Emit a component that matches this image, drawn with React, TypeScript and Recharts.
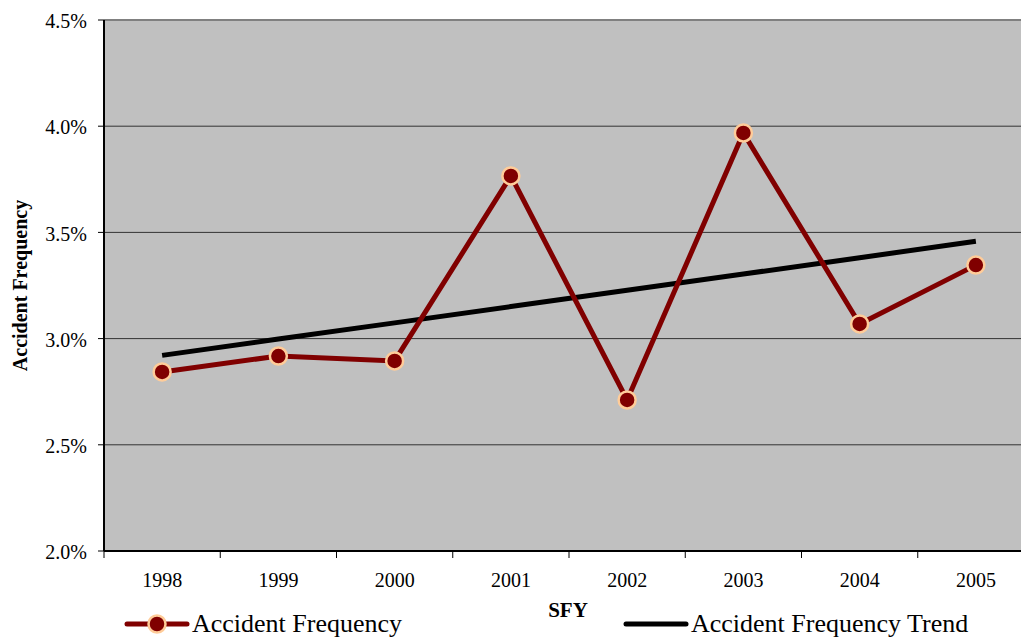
import React from 'react';
import { LineChart, Line, XAxis, YAxis, CartesianGrid, Legend, ReferenceLine } from 'recharts';

const years = ['1998', '1999', '2000', '2001', '2002', '2003', '2004', '2005'];
const accidentFrequency = [2.843, 2.918, 2.895, 3.766, 2.711, 3.968, 3.069, 3.346];
const accidentTrend = [2.921, 2.998, 3.074, 3.151, 3.228, 3.304, 3.381, 3.458];
const yTicks = [2.0, 2.5, 3.0, 3.5, 4.0, 4.5];

const data = years.map((y, i) => ({ year: y, freq: accidentFrequency[i], trend: accidentTrend[i] }));

const FONT = "'Liberation Serif', 'Times New Roman', serif";
const RED = '#800000';
const PEACH = '#FFCC99';

const XTick = (props: any) => {
  const { x, y, payload, index, visibleTicksCount } = props;
  const off = payload && payload.offset ? payload.offset : 0;
  const count = visibleTicksCount || years.length;
  return (
    <g>
      <line x1={x - off} x2={x - off} y1={y - 7} y2={y} stroke="#000" strokeWidth={1} />
      {index === count - 1 && (
        <line x1={x + off} x2={x + off} y1={y - 7} y2={y} stroke="#000" strokeWidth={1} />
      )}
      <text x={x} y={y + 29} textAnchor="middle" fontFamily={FONT} fontSize={20} fill="#000">
        {payload.value}
      </text>
    </g>
  );
};

const LegendContent = () => (
  <div style={{ position: 'relative', width: 1040, height: 30, fontFamily: FONT }}>
    <svg width={70} height={30} style={{ position: 'absolute', left: 124, top: 0 }}>
      <line x1={3} x2={63} y1={15} y2={15} stroke={RED} strokeWidth={5} strokeLinecap="round" />
      <circle cx={33} cy={15} r={8.5} fill={RED} stroke={PEACH} strokeWidth={2.5} />
    </svg>
    <span style={{ position: 'absolute', left: 192, top: 0, fontSize: 26, lineHeight: '30px', color: '#000', whiteSpace: 'nowrap' }}>
      Accident Frequency
    </span>
    <svg width={70} height={30} style={{ position: 'absolute', left: 623, top: 0 }}>
      <line x1={3} x2={63} y1={15} y2={15} stroke="#000" strokeWidth={5} strokeLinecap="round" />
    </svg>
    <span style={{ position: 'absolute', left: 691, top: 0, fontSize: 26, lineHeight: '30px', color: '#000', whiteSpace: 'nowrap' }}>
      Accident Frequency Trend
    </span>
  </div>
);

export default function App() {
  return (
    <div style={{ position: 'absolute', left: 0, top: 0, width: 1021, height: 639, overflow: 'hidden', background: '#fff' }}>
      <LineChart width={1040} height={639} data={data} margin={{ top: 20, right: 6, bottom: 0, left: 0 }}>
        <CartesianGrid vertical={false} horizontal={true} fill="#C0C0C0" stroke="#333333" strokeWidth={1} />
        <XAxis
          dataKey="year"
          scale="band"
          height={58}
          tickLine={false}
          tickSize={7}
          tickMargin={0}
          axisLine={{ stroke: '#000', strokeWidth: 2 }}
          tick={<XTick />}
          interval={0}
          label={(p: any) => {
            const vb = p.viewBox;
            return (
              <text x={vb.x + vb.width / 2 - 1} y={vb.y + 66} textAnchor="middle" fontFamily={FONT} fontSize={21} fontWeight="bold" fill="#000">
                SFY
              </text>
            );
          }}
        />
        <YAxis
          width={104}
          domain={[2.0, 4.5]}
          ticks={yTicks}
          interval={0}
          tickSize={6}
          tickMargin={11}
          tickLine={{ stroke: '#000' }}
          axisLine={{ stroke: '#000', strokeWidth: 2 }}
          tick={{ fontFamily: FONT, fontSize: 20, fill: '#000', dy: 1 }}
          tickFormatter={(v: number) => `${v.toFixed(1)}%`}
          label={(p: any) => {
            const vb = p.viewBox;
            const cx = 20;
            const cy = vb.y + vb.height / 2;
            return (
              <text x={cx} y={cy} transform={`rotate(-90, ${cx}, ${cy})`} textAnchor="middle" dominantBaseline="central" fontFamily={FONT} fontSize={20} fontWeight="bold" fill="#000">
                Accident Frequency
              </text>
            );
          }}
        />
        <ReferenceLine y={4.5} stroke="#808080" strokeWidth={2} />
        <Legend verticalAlign="bottom" height={30} content={<LegendContent />} wrapperStyle={{ left: 0, width: 1040 }} />
        <Line
          dataKey="trend"
          name="Accident Frequency Trend"
          stroke="#000"
          strokeWidth={5}
          dot={false}
          activeDot={false}
          isAnimationActive={false}
        />
        <Line
          dataKey="freq"
          name="Accident Frequency"
          stroke={RED}
          strokeWidth={5}
          dot={{ r: 8.5, fill: RED, stroke: PEACH, strokeWidth: 2.5 }}
          activeDot={false}
          isAnimationActive={false}
        />
      </LineChart>
    </div>
  );
}
